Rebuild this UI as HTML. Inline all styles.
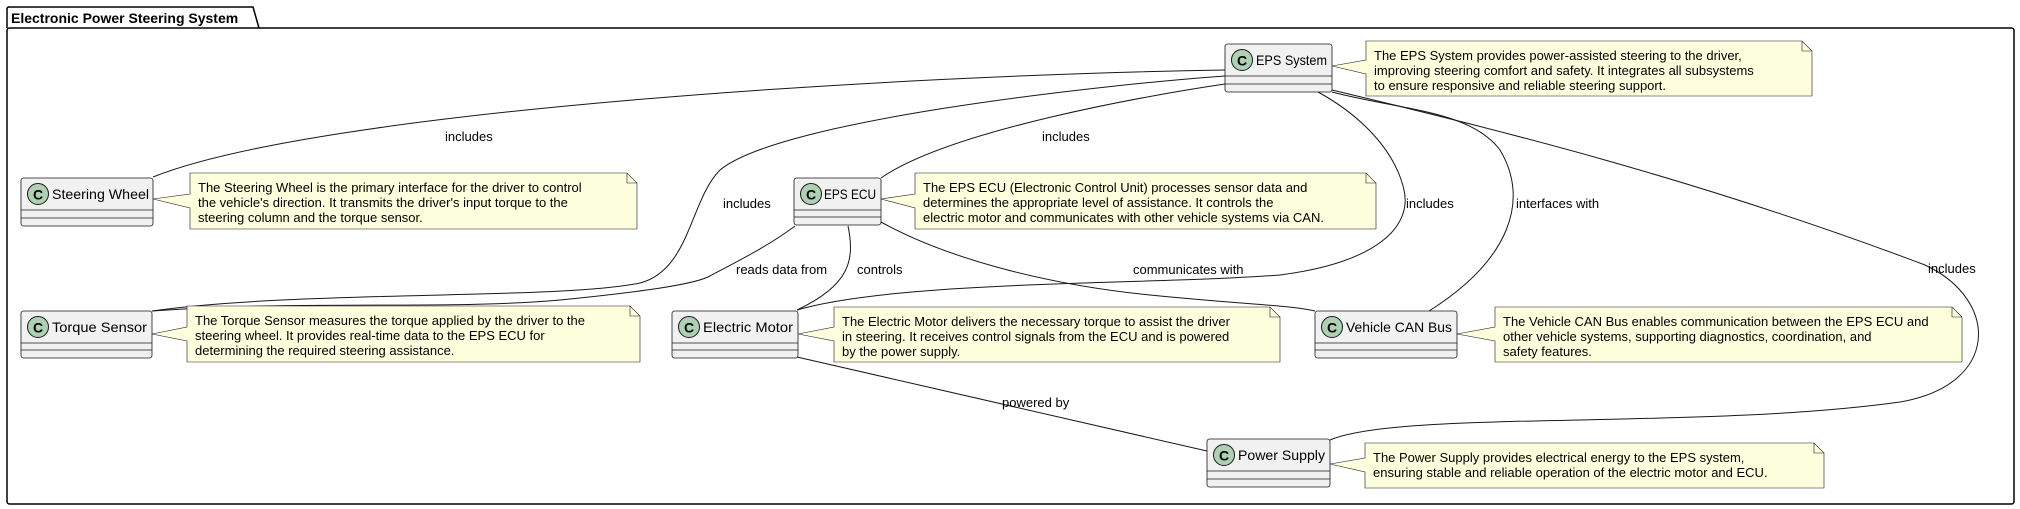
<!DOCTYPE html>
<html><head><meta charset="utf-8"><style>
html,body{margin:0;padding:0;background:#fff;}
svg{display:block;}
text{font-family:"Liberation Sans","DejaVu Sans",sans-serif;fill:#000;}
.cls{fill:#F1F1F1;stroke:#181818;stroke-width:0.8;}
.note{fill:#FEFFDD;stroke:#181818;stroke-width:0.6;}
.ln{fill:none;stroke:#181818;stroke-width:1;}
.cn{font-size:14px;}
.nt{font-size:13px;}
.lb{font-size:13px;}
</style></head><body>
<svg width="2020" height="509" viewBox="0 0 2020 509" xmlns="http://www.w3.org/2000/svg">
<path d="M7,28 L7,9 Q7,7 9,7 L253,7 L259,28" fill="none" stroke="#000" stroke-width="1.5"/>
<rect x="7" y="28" width="2007" height="476" rx="2.5" fill="none" stroke="#000" stroke-width="1.5"/>
<text x="11" y="23" style="font-size:14px;font-weight:bold;">Electronic Power Steering System</text>

<path class="ln" d="M153,177 C320,110 900,75 1225,70"/>
<path class="ln" d="M152,311 C300,290 560,300 640,283 C690,270 690,200 720,170 C780,120 1100,85 1225,76"/>
<path class="ln" d="M881,178 C950,130 1150,95 1225,84"/>
<path class="ln" d="M152,311 C300,300 450,310 560,300 C640,292 690,285 708,277 C740,260 770,245 795,226"/>
<path class="ln" d="M848,226 C855,260 850,285 797,310"/>
<path class="ln" d="M881,222 C950,260 1050,285 1150,295 C1250,305 1290,305 1315,311"/>
<path class="ln" d="M797,310 C900,280 1150,285 1280,275 C1380,262 1412,225 1404,190 C1395,150 1360,115 1318,92"/>
<path class="ln" d="M1332,92 C1400,110 1470,110 1500,150 C1530,200 1510,260 1429,311"/>
<path class="ln" d="M1332,90 C1500,130 1700,180 1925,265 C2000,300 2000,385 1900,402 C1700,430 1400,410 1330,440"/>
<path class="ln" d="M797,357 L1207,451"/>

<text class="lb" x="445" y="141">includes</text>
<text class="lb" x="1042" y="141">includes</text>
<text class="lb" x="723" y="208">includes</text>
<text class="lb" x="1406" y="208">includes</text>
<text class="lb" x="1516" y="208">interfaces with</text>
<text class="lb" x="1928" y="273">includes</text>
<text class="lb" x="736" y="274">reads data from</text>
<text class="lb" x="857" y="274">controls</text>
<text class="lb" x="1133" y="274">communicates with</text>
<text class="lb" x="1002" y="407">powered by</text>

<g>
<path class="note" d="M190,173 L627,173 L637,183 L637,229 L190,229 L190,208 L153,199 L190,194 Z"/>
<path d="M627,173 L627,183 L637,183" fill="none" stroke="#181818" stroke-width="0.6"/>
<text class="nt" x="198" y="192">The Steering Wheel is the primary interface for the driver to control</text>
<text class="nt" x="198" y="207">the vehicle's direction. It transmits the driver's input torque to the</text>
<text class="nt" x="198" y="222">steering column and the torque sensor.</text>
</g>
<g>
<path class="note" d="M187,306 L630,306 L640,316 L640,362 L187,362 L187,341 L152,334 L187,327 Z"/>
<path d="M630,306 L630,316 L640,316" fill="none" stroke="#181818" stroke-width="0.6"/>
<text class="nt" x="195" y="325">The Torque Sensor measures the torque applied by the driver to the</text>
<text class="nt" x="195" y="340">steering wheel. It provides real-time data to the EPS ECU for</text>
<text class="nt" x="195" y="355">determining the required steering assistance.</text>
</g>
<g>
<path class="note" d="M915,173 L1366,173 L1376,183 L1376,229 L915,229 L915,208 L881,199 L915,194 Z"/>
<path d="M1366,173 L1366,183 L1376,183" fill="none" stroke="#181818" stroke-width="0.6"/>
<text class="nt" x="923" y="192">The EPS ECU (Electronic Control Unit) processes sensor data and</text>
<text class="nt" x="923" y="207">determines the appropriate level of assistance. It controls the</text>
<text class="nt" x="923" y="222">electric motor and communicates with other vehicle systems via CAN.</text>
</g>
<g>
<path class="note" d="M834,307 L1270,307 L1280,317 L1280,362 L834,362 L834,341 L798,334 L834,327 Z"/>
<path d="M1270,307 L1270,317 L1280,317" fill="none" stroke="#181818" stroke-width="0.6"/>
<text class="nt" x="842" y="326">The Electric Motor delivers the necessary torque to assist the driver</text>
<text class="nt" x="842" y="341">in steering. It receives control signals from the ECU and is powered</text>
<text class="nt" x="842" y="356">by the power supply.</text>
</g>
<g>
<path class="note" d="M1495,307 L1952,307 L1962,317 L1962,362 L1495,362 L1495,341 L1457,334 L1495,327 Z"/>
<path d="M1952,307 L1952,317 L1962,317" fill="none" stroke="#181818" stroke-width="0.6"/>
<text class="nt" x="1503" y="326">The Vehicle CAN Bus enables communication between the EPS ECU and</text>
<text class="nt" x="1503" y="341">other vehicle systems, supporting diagnostics, coordination, and</text>
<text class="nt" x="1503" y="356">safety features.</text>
</g>
<g>
<path class="note" d="M1366,41 L1802,41 L1812,51 L1812,96 L1366,96 L1366,74 L1332,66 L1366,60 Z"/>
<path d="M1802,41 L1802,51 L1812,51" fill="none" stroke="#181818" stroke-width="0.6"/>
<text class="nt" x="1374" y="60">The EPS System provides power-assisted steering to the driver,</text>
<text class="nt" x="1374" y="75">improving steering comfort and safety. It integrates all subsystems</text>
<text class="nt" x="1374" y="90">to ensure responsive and reliable steering support.</text>
</g>
<g>
<path class="note" d="M1365,443 L1814,443 L1824,453 L1824,488 L1365,488 L1365,472 L1330,464 L1365,458 Z"/>
<path d="M1814,443 L1814,453 L1824,453" fill="none" stroke="#181818" stroke-width="0.6"/>
<text class="nt" x="1373" y="462">The Power Supply provides electrical energy to the EPS system,</text>
<text class="nt" x="1373" y="477">ensuring stable and reliable operation of the electric motor and ECU.</text>
</g>

<g>
<rect class="cls" x="21" y="178" width="132" height="48" rx="2.5"/>
<line x1="21" y1="210" x2="153" y2="210" stroke="#181818" stroke-width="0.8"/>
<line x1="21" y1="218" x2="153" y2="218" stroke="#181818" stroke-width="0.8"/>
<circle cx="38" cy="194" r="10.5" fill="#ADD1B2" stroke="#181818" stroke-width="1"/>
<text x="38" y="199.5" text-anchor="middle" style="font-size:14px;font-weight:bold;">C</text>
<text class="cn" x="52" y="199" textLength="97" lengthAdjust="spacingAndGlyphs">Steering Wheel</text>

<rect class="cls" x="21" y="311" width="131" height="47" rx="2.5"/>
<line x1="21" y1="343" x2="152" y2="343" stroke="#181818" stroke-width="0.8"/>
<line x1="21" y1="350" x2="152" y2="350" stroke="#181818" stroke-width="0.8"/>
<circle cx="38" cy="327" r="10.5" fill="#ADD1B2" stroke="#181818" stroke-width="1"/>
<text x="38" y="332.5" text-anchor="middle" style="font-size:14px;font-weight:bold;">C</text>
<text class="cn" x="52" y="332" textLength="95" lengthAdjust="spacingAndGlyphs">Torque Sensor</text>

<rect class="cls" x="794" y="178" width="87" height="47" rx="2.5"/>
<line x1="794" y1="210" x2="881" y2="210" stroke="#181818" stroke-width="0.8"/>
<line x1="794" y1="217" x2="881" y2="217" stroke="#181818" stroke-width="0.8"/>
<circle cx="811" cy="194" r="10.5" fill="#ADD1B2" stroke="#181818" stroke-width="1"/>
<text x="811" y="199.5" text-anchor="middle" style="font-size:14px;font-weight:bold;">C</text>
<text class="cn" x="824" y="199" textLength="52" lengthAdjust="spacingAndGlyphs">EPS ECU</text>

<rect class="cls" x="672" y="311" width="126" height="47" rx="2.5"/>
<line x1="672" y1="343" x2="798" y2="343" stroke="#181818" stroke-width="0.8"/>
<line x1="672" y1="350" x2="798" y2="350" stroke="#181818" stroke-width="0.8"/>
<circle cx="689" cy="327" r="10.5" fill="#ADD1B2" stroke="#181818" stroke-width="1"/>
<text x="689" y="332.5" text-anchor="middle" style="font-size:14px;font-weight:bold;">C</text>
<text class="cn" x="703" y="332" textLength="90" lengthAdjust="spacingAndGlyphs">Electric Motor</text>

<rect class="cls" x="1225" y="44" width="107" height="48" rx="2.5"/>
<line x1="1225" y1="76" x2="1332" y2="76" stroke="#181818" stroke-width="0.8"/>
<line x1="1225" y1="84" x2="1332" y2="84" stroke="#181818" stroke-width="0.8"/>
<circle cx="1242" cy="60" r="10.5" fill="#ADD1B2" stroke="#181818" stroke-width="1"/>
<text x="1242" y="65.5" text-anchor="middle" style="font-size:14px;font-weight:bold;">C</text>
<text class="cn" x="1256" y="65" textLength="71" lengthAdjust="spacingAndGlyphs">EPS System</text>

<rect class="cls" x="1315" y="311" width="142" height="47" rx="2.5"/>
<line x1="1315" y1="343" x2="1457" y2="343" stroke="#181818" stroke-width="0.8"/>
<line x1="1315" y1="350" x2="1457" y2="350" stroke="#181818" stroke-width="0.8"/>
<circle cx="1332" cy="327" r="10.5" fill="#ADD1B2" stroke="#181818" stroke-width="1"/>
<text x="1332" y="332.5" text-anchor="middle" style="font-size:14px;font-weight:bold;">C</text>
<text class="cn" x="1346" y="332" textLength="106" lengthAdjust="spacingAndGlyphs">Vehicle CAN Bus</text>

<rect class="cls" x="1207" y="439" width="123" height="48" rx="2.5"/>
<line x1="1207" y1="471" x2="1330" y2="471" stroke="#181818" stroke-width="0.8"/>
<line x1="1207" y1="479" x2="1330" y2="479" stroke="#181818" stroke-width="0.8"/>
<circle cx="1224" cy="455" r="10.5" fill="#ADD1B2" stroke="#181818" stroke-width="1"/>
<text x="1224" y="460.5" text-anchor="middle" style="font-size:14px;font-weight:bold;">C</text>
<text class="cn" x="1238" y="460" textLength="87" lengthAdjust="spacingAndGlyphs">Power Supply</text>
</g>
</svg>
</body></html>
